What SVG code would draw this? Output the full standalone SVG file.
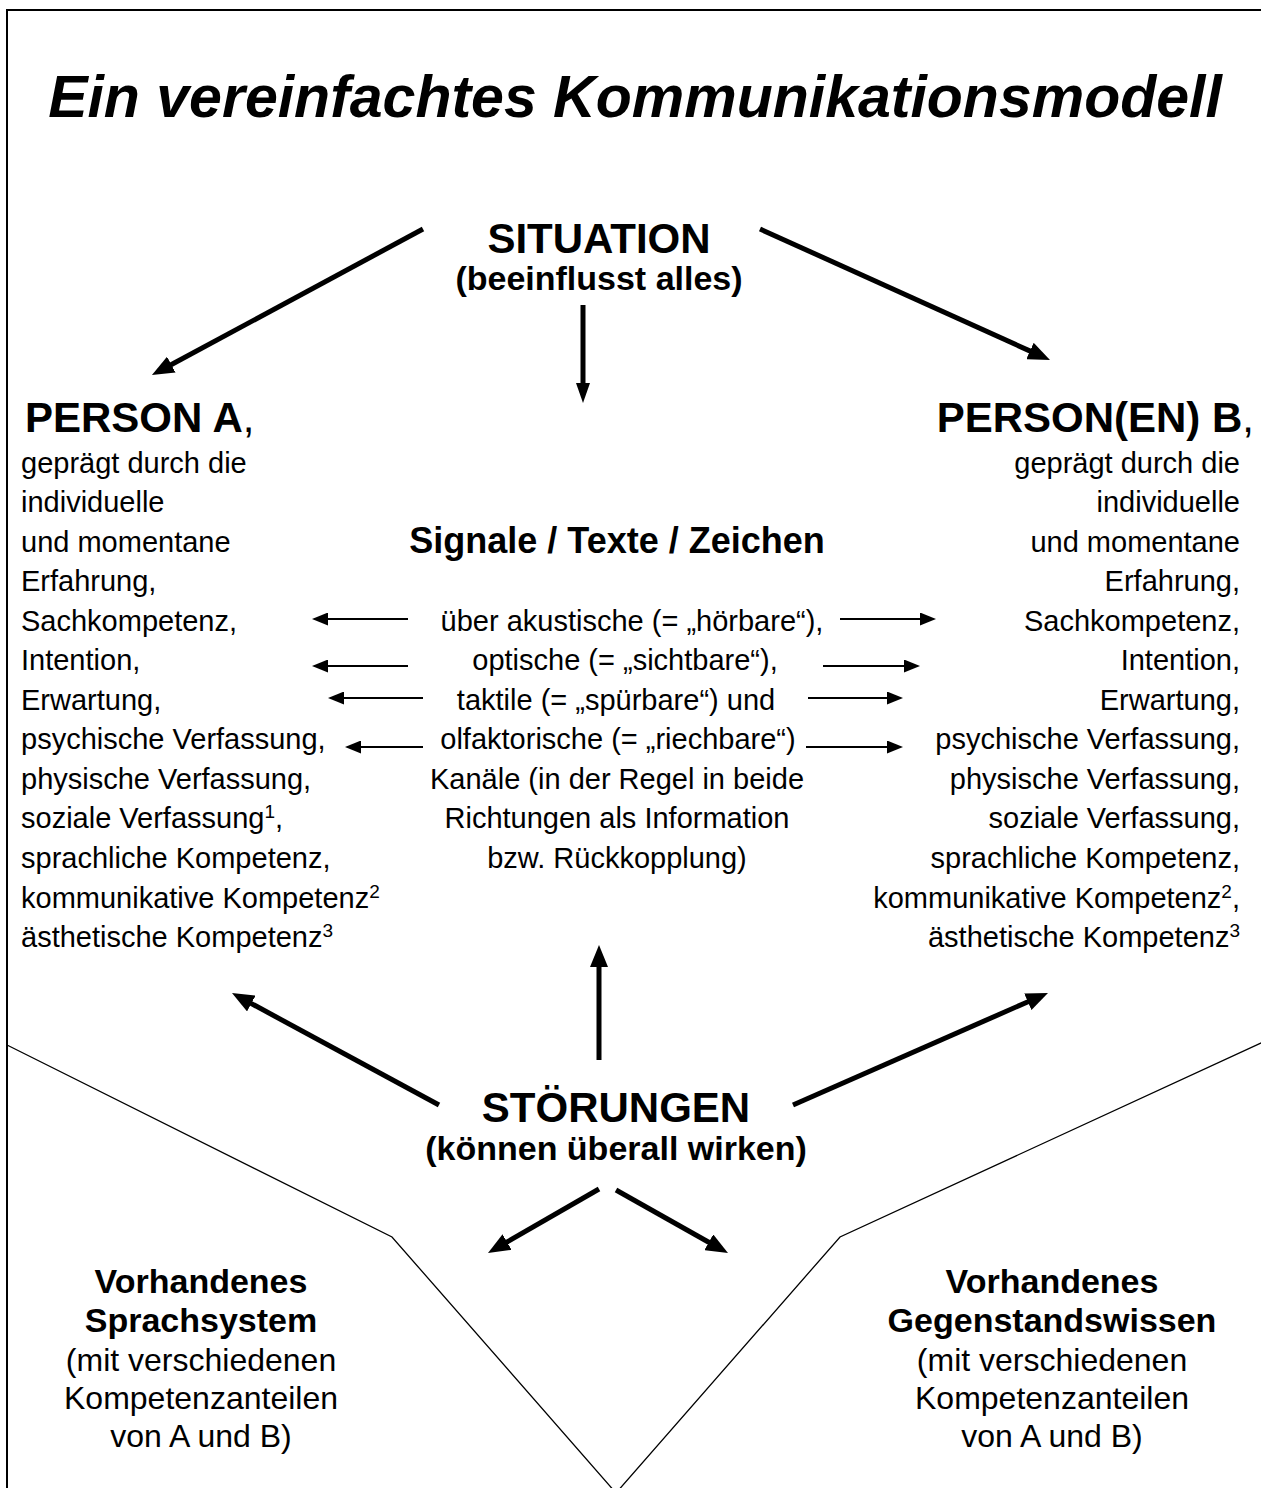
<svg xmlns="http://www.w3.org/2000/svg" width="1261" height="1488" viewBox="0 0 1261 1488">
<defs>
<style>
text{font-family:"Liberation Sans",Arial,Helvetica,sans-serif;fill:#000}
.title{font-size:59px;font-weight:bold;font-style:italic}
.h{font-size:42px;font-weight:bold}
.sub{font-size:34px;font-weight:bold}
.body{font-size:29px}
.mid{font-size:29px;text-anchor:middle}
.sig{font-size:36px;font-weight:bold;text-anchor:middle}
.bb{font-size:34px;font-weight:bold;text-anchor:middle}
.br{font-size:32px;text-anchor:middle}
.sup{font-size:19px}
.thick{stroke:#000;stroke-width:5;fill:none}
.thin{stroke:#000;stroke-width:2;fill:none}
.frame{stroke:#000;stroke-width:2;fill:none}
.vline{stroke:#000;stroke-width:1.3;fill:none}
</style>
<marker id="hb" markerUnits="userSpaceOnUse" markerWidth="22" markerHeight="18" refX="4" refY="9" orient="auto"><path d="M0,0 L22,9 L0,18 z" fill="#000"/></marker>
<marker id="hm" markerUnits="userSpaceOnUse" markerWidth="20" markerHeight="14" refX="3" refY="7" orient="auto"><path d="M0,0 L20,7 L0,14 z" fill="#000"/></marker>
<marker id="hs" markerUnits="userSpaceOnUse" markerWidth="16" markerHeight="13" refX="2" refY="6.5" orient="auto"><path d="M0,0 L16,6.5 L0,13 z" fill="#000"/></marker>
</defs>

<g id="frame">
<path class="frame" d="M7,1500 V10 H1270"/>
<path class="vline" d="M7,1045 L392,1237 L616,1493"/>
<path class="vline" d="M1263,1042 L840,1237 L616,1493"/>
</g>

<g id="title"><text class="title" x="635" y="117" text-anchor="middle">Ein vereinfachtes Kommunikationsmodell</text></g>

<g id="situation">
<text class="h" x="599" y="253" text-anchor="middle">SITUATION</text>
<text class="sub" x="599" y="290" text-anchor="middle">(beeinflusst alles)</text>
</g>

<g id="personA">
<text class="h" x="25" y="432">PERSON A<tspan font-weight="normal">,</tspan></text>
<text class="body" x="21" y="473">geprägt durch die</text>
<text class="body" x="21" y="512">individuelle</text>
<text class="body" x="21" y="552">und momentane</text>
<text class="body" x="21" y="591">Erfahrung,</text>
<text class="body" x="21" y="631">Sachkompetenz,</text>
<text class="body" x="21" y="670">Intention,</text>
<text class="body" x="21" y="710">Erwartung,</text>
<text class="body" x="21" y="749">psychische Verfassung,</text>
<text class="body" x="21" y="789">physische Verfassung,</text>
<text class="body" x="21" y="828">soziale Verfassung<tspan class="sup" dy="-10">1</tspan><tspan dy="10">,</tspan></text>
<text class="body" x="21" y="868">sprachliche Kompetenz,</text>
<text class="body" x="21" y="908">kommunikative Kompetenz<tspan class="sup" dy="-10">2</tspan></text>
<text class="body" x="21" y="947">ästhetische Kompetenz<tspan class="sup" dy="-10">3</tspan></text>
</g>

<g id="personB" text-anchor="end">
<text class="h" x="1254" y="432">PERSON(EN) B<tspan font-weight="normal">,</tspan></text>
<text class="body" x="1240" y="473">geprägt durch die</text>
<text class="body" x="1240" y="512">individuelle</text>
<text class="body" x="1240" y="552">und momentane</text>
<text class="body" x="1240" y="591">Erfahrung,</text>
<text class="body" x="1240" y="631">Sachkompetenz,</text>
<text class="body" x="1240" y="670">Intention,</text>
<text class="body" x="1240" y="710">Erwartung,</text>
<text class="body" x="1240" y="749">psychische Verfassung,</text>
<text class="body" x="1240" y="789">physische Verfassung,</text>
<text class="body" x="1240" y="828">soziale Verfassung,</text>
<text class="body" x="1240" y="868">sprachliche Kompetenz,</text>
<text class="body" x="1240" y="908">kommunikative Kompetenz<tspan class="sup" dy="-10">2</tspan><tspan dy="10">,</tspan></text>
<text class="body" x="1240" y="947">ästhetische Kompetenz<tspan class="sup" dy="-10">3</tspan></text>
</g>

<g id="signale">
<text class="sig" x="617" y="553">Signale / Texte / Zeichen</text>
<text class="mid" x="632" y="631">über akustische (= „hörbare“),</text>
<text class="mid" x="625" y="670">optische (= „sichtbare“),</text>
<text class="mid" x="616" y="710">taktile (= „spürbare“) und</text>
<text class="mid" x="618" y="749">olfaktorische (= „riechbare“)</text>
<text class="mid" x="617" y="789">Kanäle (in der Regel in beide</text>
<text class="mid" x="617" y="828">Richtungen als Information</text>
<text class="mid" x="617" y="868">bzw. Rückkopplung)</text>
</g>

<g id="stoerungen">
<text class="h" x="616" y="1122" text-anchor="middle">STÖRUNGEN</text>
<text class="sub" x="616" y="1160" text-anchor="middle">(können überall wirken)</text>
</g>

<g id="sprachsystem">
<text class="bb" x="201" y="1293">Vorhandenes</text>
<text class="bb" x="201" y="1332">Sprachsystem</text>
<text class="br" x="201" y="1371">(mit verschiedenen</text>
<text class="br" x="201" y="1409">Kompetenzanteilen</text>
<text class="br" x="201" y="1447">von A und B)</text>
</g>

<g id="gegenstandswissen">
<text class="bb" x="1052" y="1293">Vorhandenes</text>
<text class="bb" x="1052" y="1332">Gegenstandswissen</text>
<text class="br" x="1052" y="1371">(mit verschiedenen</text>
<text class="br" x="1052" y="1409">Kompetenzanteilen</text>
<text class="br" x="1052" y="1447">von A und B)</text>
</g>

<g id="connectors">
<line class="thick" x1="423" y1="229" x2="167.8" y2="366.5" marker-end="url(#hb)"/>
<line class="thick" x1="760" y1="229" x2="1033.6" y2="352.6" marker-end="url(#hb)"/>
<line class="thick" x1="583" y1="305" x2="583" y2="386" stroke-width="3.5" marker-end="url(#hm)"/>
<line class="thick" x1="599" y1="1060" x2="599" y2="963" marker-end="url(#hb)"/>
<line class="thick" x1="439" y1="1105" x2="247.8" y2="1001.6" marker-end="url(#hb)"/>
<line class="thick" x1="793" y1="1105" x2="1031.5" y2="1000.2" marker-end="url(#hb)"/>
<line class="thick" x1="599" y1="1189" x2="503.6" y2="1244" marker-end="url(#hb)"/>
<line class="thick" x1="616" y1="1190" x2="712.3" y2="1244.2" marker-end="url(#hb)"/>
<line class="thin" x1="408" y1="619" x2="326" y2="619" marker-end="url(#hs)"/>
<line class="thin" x1="840" y1="619" x2="922" y2="619" marker-end="url(#hs)"/>
<line class="thin" x1="408" y1="666" x2="326" y2="666" marker-end="url(#hs)"/>
<line class="thin" x1="823" y1="666" x2="906" y2="666" marker-end="url(#hs)"/>
<line class="thin" x1="423" y1="698" x2="342" y2="698" marker-end="url(#hs)"/>
<line class="thin" x1="808" y1="698" x2="889" y2="698" marker-end="url(#hs)"/>
<line class="thin" x1="423" y1="747" x2="359" y2="747" marker-end="url(#hs)"/>
<line class="thin" x1="806" y1="747" x2="889" y2="747" marker-end="url(#hs)"/>
</g>
</svg>
